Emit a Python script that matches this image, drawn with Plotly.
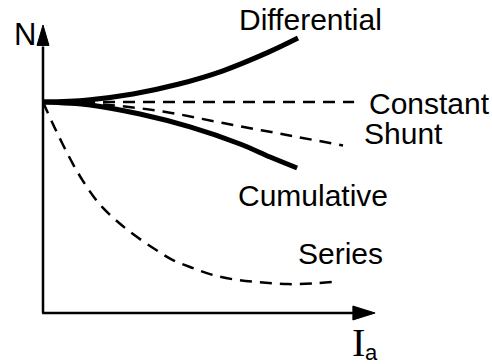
import plotly.graph_objects as go

# Speed (N, per unit) against armature current (Ia, per unit) for DC motors
ia_diff = [0.0, 0.15, 0.30, 0.45, 0.60, 0.75, 0.85]
n_diff = [1.0, 1.01, 1.038, 1.084, 1.148, 1.235, 1.303]

ia_const = [0.0, 1.037]
n_const = [1.0, 1.0]

ia_shunt = [0.0, 0.2, 0.4, 0.6, 0.8, 1.0]
n_shunt = [1.0, 0.988, 0.955, 0.900, 0.847, 0.794]

ia_cum = [0.0, 0.157, 0.323, 0.49, 0.657, 0.757, 0.847]
n_cum = [1.0, 0.986, 0.943, 0.882, 0.801, 0.739, 0.687]

ia_series = [0.0, 0.033, 0.067, 0.10, 0.133, 0.167, 0.20, 0.25, 0.30, 0.367,
             0.433, 0.50, 0.567, 0.65, 0.733, 0.817, 0.90, 0.963]
n_series = [1.0, 0.896, 0.796, 0.706, 0.626, 0.555, 0.498, 0.431, 0.374, 0.308,
            0.251, 0.213, 0.180, 0.156, 0.145, 0.137, 0.140, 0.147]

# label text and anchor points (left edge, vertical middle) in data units
labels = ["Differential", "Constant", "Shunt", "Cumulative", "Series"]
label_x = [0.648, 1.079, 1.062, 0.643, 0.842]
label_y = [1.389, 0.995, 0.853, 0.555, 0.280]

SANS = "Liberation Sans, Arial, Helvetica, sans-serif"
SERIF = "Liberation Serif, Times New Roman, serif"
INK = "#000000"

fig = go.Figure()

solid = dict(color=INK, width=5, shape="spline")
dashed = dict(color=INK, width=2.5, dash="12px,8px", shape="spline")

fig.add_trace(go.Scatter(x=ia_diff, y=n_diff, mode="lines", line=solid, name="Differential"))
fig.add_trace(go.Scatter(x=ia_cum, y=n_cum, mode="lines", line=solid, name="Cumulative"))
fig.add_trace(go.Scatter(x=ia_const, y=n_const, mode="lines",
                         line=dict(color=INK, width=2.5, dash="12px,8px"), name="Constant"))
fig.add_trace(go.Scatter(x=ia_shunt, y=n_shunt, mode="lines", line=dashed, name="Shunt"))
fig.add_trace(go.Scatter(x=ia_series, y=n_series, mode="lines", line=dashed, name="Series"))

# hand-drawn style axes with filled arrowheads
x_tip, x_base, x_half = 1.107, 1.033, 0.033
y_tip, y_base, y_half = 1.365, 1.268, 0.020
axis_line = dict(color=INK, width=2.5)
fig.add_shape(type="line", x0=-0.003, y0=0, x1=x_base + 0.005, y1=0, line=axis_line)
fig.add_shape(type="line", x0=0, y0=0, x1=0, y1=y_base - 0.005, line=axis_line)
fig.add_shape(type="path",
              path=f"M {x_tip} 0 L {x_base} {x_half} L {x_base} {-x_half} Z",
              fillcolor=INK, line=dict(color=INK, width=1))
fig.add_shape(type="path",
              path=f"M 0 {y_tip} L {y_half} {y_base} L {-y_half} {y_base} Z",
              fillcolor=INK, line=dict(color=INK, width=1))

for text, x, y in zip(labels, label_x, label_y):
    fig.add_annotation(x=x, y=y, text=text, showarrow=False, xanchor="left", yanchor="middle",
                       font=dict(family=SANS, size=30, color=INK))

# axis names: N on the vertical axis, I with subscript a on the horizontal one
fig.add_annotation(x=-0.105, y=1.318, text="N", showarrow=False, xanchor="left", yanchor="middle",
                   font=dict(family=SANS, size=31, color=INK))
fig.add_annotation(x=1.022, y=-0.142, text="I", showarrow=False, xanchor="left", yanchor="middle",
                   font=dict(family=SERIF, size=40, color=INK))
fig.add_annotation(x=1.068, y=-0.185, text="a", showarrow=False, xanchor="left", yanchor="middle",
                   font=dict(family=SANS, size=22, color=INK))

fig.update_layout(
    width=492, height=364,
    margin=dict(l=0, r=0, t=0, b=0),
    paper_bgcolor="white", plot_bgcolor="white",
    showlegend=False,
    xaxis=dict(range=[-0.14333, 1.49667], visible=False, fixedrange=True),
    yaxis=dict(range=[-0.2417, 1.4834], visible=False, fixedrange=True),
)

fig.write_html("out.html")
